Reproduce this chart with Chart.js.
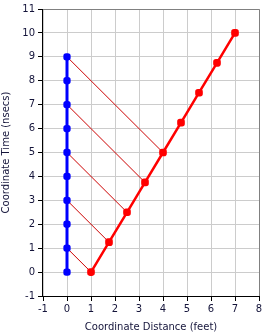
<!DOCTYPE html>
<html>
<head>
<meta charset="utf-8">
<script src="https://cdn.jsdelivr.net/npm/chart.js@4"></script>
<style>
  html, body { margin: 0; padding: 0; background: #fff; }
  #wrap { width: 269px; height: 336px; }
</style>
</head>
<body>
<div id="wrap"><canvas id="chart" width="269" height="336"></canvas></div>
<script>
// stationary worldline (blue)
const blueX = [0, 0, 0, 0, 0, 0, 0, 0, 0, 0];
const blueY = [0, 1, 2, 3, 4, 5, 6, 7, 8, 9];

// moving worldline (red)
const redX = [1, 1.75, 2.5, 3.25, 4, 4.75, 5.5, 6.25, 7];
const redY = [0, 1.25, 2.5, 3.75, 5, 6.25, 7.5, 8.75, 10];

// light signals: start point on blue, end point on red
const rayStartX = [0, 0, 0, 0, 0];
const rayStartY = [1, 3, 5, 7, 9];
const rayEndX = [1, 1.75, 2.5, 3.25, 4];
const rayEndY = [0, 1.25, 2.5, 3.75, 5];

const xMin = -1, xMax = 8;
const yMin = -1, yMax = 11;
const xTitle = 'Coordinate Distance (feet)';
const yTitle = 'Coordinate Time (nsecs)';

const textColor = '#14143a';
const fontSpec = { family: 'DejaVu Sans', size: 10 };

function pts(xs, ys) {
  return xs.map((x, i) => ({ x: x, y: ys[i] }));
}

const datasets = [
  {
    data: pts(blueX, blueY),
    borderColor: '#0000ff',
    backgroundColor: '#0000ff',
    borderWidth: 3,
    pointRadius: 2.5,
    pointStyle: 'rectRounded'
  },
  {
    data: pts(redX, redY),
    borderColor: '#ff0000',
    backgroundColor: '#ff0000',
    borderWidth: 2.5,
    pointRadius: 3,
    pointStyle: 'rectRounded'
  }
];

rayStartX.forEach((sx, i) => {
  datasets.push({
    data: [{ x: sx, y: rayStartY[i] }, { x: rayEndX[i], y: rayEndY[i] }],
    borderColor: '#cc0000',
    borderWidth: 1,
    pointRadius: 0
  });
});

// gray frame on top/right, black axes on left/bottom
const framePlugin = {
  id: 'frame',
  afterDraw(chart) {
    const a = chart.chartArea;
    const ctx = chart.ctx;
    ctx.save();
    ctx.lineWidth = 1;
    ctx.strokeStyle = '#808080';
    ctx.beginPath();
    ctx.moveTo(a.left, a.top + 0.5);
    ctx.lineTo(a.right + 0.5, a.top + 0.5);
    ctx.lineTo(a.right + 0.5, a.bottom);
    ctx.stroke();
    ctx.strokeStyle = '#000';
    ctx.beginPath();
    ctx.moveTo(a.left - 0.5, a.top);
    ctx.lineTo(a.left - 0.5, a.bottom + 0.5);
    ctx.lineTo(a.right + 1, a.bottom + 0.5);
    ctx.stroke();
    ctx.restore();
  }
};

new Chart(document.getElementById('chart'), {
  type: 'line',
  data: { datasets: datasets },
  options: {
    responsive: false,
    animation: false,
    layout: { padding: { top: 8, right: 10, left: 0, bottom: 0 } },
    plugins: { legend: { display: false }, tooltip: { enabled: false } },
    scales: {
      x: {
        type: 'linear',
        min: xMin,
        max: xMax,
        ticks: { stepSize: 1, color: textColor, font: fontSpec, padding: 2, maxRotation: 0 },
        grid: { color: '#cccccc', tickColor: '#000', tickLength: 5 },
        border: { display: false },
        title: { display: true, text: xTitle, color: textColor, font: fontSpec, padding: { top: 0, bottom: 3 } },
        afterFit(scale) { scale.height = 40; }
      },
      y: {
        type: 'linear',
        min: yMin,
        max: yMax,
        ticks: { stepSize: 1, color: textColor, font: fontSpec, padding: 3 },
        grid: { color: '#cccccc', tickColor: '#000', tickLength: 5 },
        border: { display: false },
        title: { display: true, text: yTitle, color: textColor, font: fontSpec, padding: { top: 0, bottom: 3 } },
        afterFit(scale) { scale.width = 43; }
      }
    }
  },
  plugins: [framePlugin]
});
</script>
</body>
</html>
